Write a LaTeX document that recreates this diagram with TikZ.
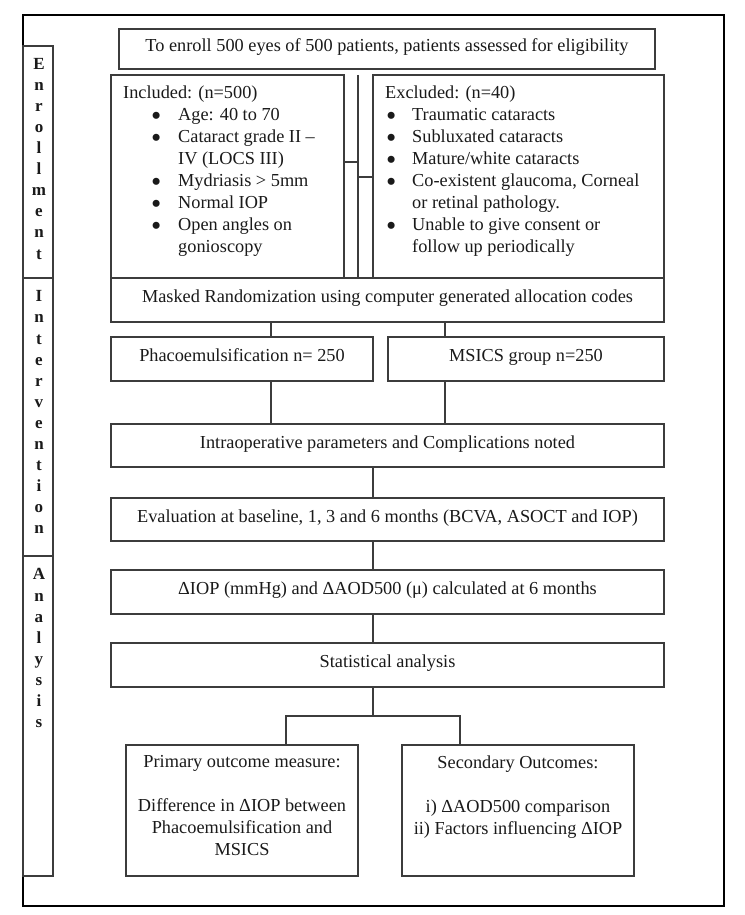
\documentclass[tikz,border=0pt]{standalone}
\usepackage{fontspec}
\usepackage{graphicx}
\setmainfont{Liberation Serif}
\newcommand{\mainfs}{\fontsize{18.3}{22}\selectfont}
\newcommand{\sidefs}{\fontsize{17}{21.1}\selectfont\bfseries}
\newcommand{\bul}{\smash{\raisebox{-5.3pt}{\scalebox{1.6}{•}}}}
\definecolor{linec}{HTML}{3C3C3C}
\definecolor{textc}{HTML}{1A1A1A}
\begin{document}
\begin{tikzpicture}[x=1pt,y=-1pt,
  lc/.style={draw=linec, line width=1.1pt},
  box/.style={lc, inner sep=0pt, font=\mainfs, text=textc},
  one/.style={box, text height=13pt, text depth=8pt},
  conn/.style={draw=linec, line width=1.1pt},
  txt/.style={inner sep=0pt, font=\mainfs, text=textc},
  side/.style={font=\sidefs, align=center, inner sep=0pt, anchor=north, text=textc}]
\useasboundingbox (0,0) rectangle (744,915);
\fill[white] (0,0) rectangle (744,915);

% outer frame and side column
\node[draw=black, line width=2pt, minimum width=701pt, minimum height=891pt, inner sep=0pt] (frame) at (373.5,460.5) {};
\node[lc, minimum width=30pt, minimum height=830pt, inner sep=0pt] (col) at (38,461) {};
\coordinate (s1) at (53,278);
\coordinate (s2) at (53,556);
\draw[conn] (col.west |- s1) -- (s1);
\draw[conn] (col.west |- s2) -- (s2);
\node[side] (enr) at (39,57.8) {E\\n\\r\\o\\l\\l\\m\\e\\n\\t};
\node[side] (intv) at (39,290.5) {I\\n\\t\\e\\r\\v\\e\\n\\t\\i\\o\\n};
\node[side] (anal) at (39,568.5) {A\\n\\a\\l\\y\\s\\i\\s};

% boxes
\node[one, minimum width=536pt, minimum height=40pt] (top) at (387,49) {To enroll 500 eyes of 500 patients, patients assessed for eligibility};
\node[box, minimum width=233pt, minimum height=203pt] (inc) at (227.5,176.5) {};
\node[box, minimum width=291pt, minimum height=203pt] (exc) at (518.5,176.5) {};
\node[txt, anchor=north west, align=left] (inct) at (123,85.5) {Included: (n=500)\\
\hspace*{28pt}\makebox[27pt][l]{\bul}Age: 40 to 70\\
\hspace*{28pt}\makebox[27pt][l]{\bul}Cataract grade II –\\
\hspace*{55pt}IV (LOCS III)\\
\hspace*{28pt}\makebox[27pt][l]{\bul}Mydriasis > 5mm\\
\hspace*{28pt}\makebox[27pt][l]{\bul}Normal IOP\\
\hspace*{28pt}\makebox[27pt][l]{\bul}Open angles on\\
\hspace*{55pt}gonioscopy};
\node[txt, anchor=north west, align=left] (exct) at (385,85.5) {Excluded: (n=40)\\
\hspace*{1pt}\makebox[26pt][l]{\bul}Traumatic cataracts\\
\hspace*{1pt}\makebox[26pt][l]{\bul}Subluxated cataracts\\
\hspace*{1pt}\makebox[26pt][l]{\bul}Mature/white cataracts\\
\hspace*{1pt}\makebox[26pt][l]{\bul}Co-existent glaucoma, Corneal\\
\hspace*{27pt}or retinal pathology.\\
\hspace*{1pt}\makebox[26pt][l]{\bul}Unable to give consent or\\
\hspace*{27pt}follow up periodically};

\node[one, minimum width=553pt, minimum height=44pt] (rand) at (387.5,300) {Masked Randomization using computer generated allocation codes};
\node[one, minimum width=262pt, minimum height=44pt] (phaco) at (242,359) {Phacoemulsification n= 250};
\node[one, minimum width=276pt, minimum height=44pt] (msics) at (526,359) {MSICS group n=250};
\node[one, minimum width=553pt, minimum height=43pt] (intra) at (387.5,445.5) {Intraoperative parameters and Complications noted};
\node[one, minimum width=553pt, minimum height=43pt] (eval) at (387.5,519.5) {Evaluation at baseline, 1, 3 and 6 months (BCVA, ASOCT and IOP)};
\node[one, minimum width=553pt, minimum height=44pt] (dlt) at (387.5,592) {ΔIOP (mmHg) and ΔAOD500 (μ) calculated at 6 months};
\node[one, minimum width=553pt, minimum height=44pt] (stat) at (387.5,665) {Statistical analysis};
\node[box, minimum width=232pt, minimum height=131pt] (prim) at (242,810.5) {};
\node[box, minimum width=232pt, minimum height=131pt] (sec) at (518,810.5) {};
\node[txt, anchor=north, align=center] (primt) at (242,755.5) {Primary outcome measure:\\ \strut\\ Difference in ΔIOP between\\ Phacoemulsification and\\ MSICS};
\node[txt, anchor=north, align=center] (sect) at (518,755.5) {Secondary Outcomes:\\ \strut\\ i) ΔAOD500 comparison\\ ii) Factors influencing ΔIOP};

% connectors
\coordinate (m1) at (358,75);
\coordinate (m2) at (358,278);
\draw[conn] (m1) -- (m2);
\coordinate (j1) at (358,162);
\coordinate (j2) at (358,177);
\draw[conn] (inc.east |- j1) -- (j1);
\draw[conn] (j2) -- (exc.west |- j2);
\coordinate (ra) at (271,330);
\coordinate (rb) at (445,330);
\coordinate (cc) at (373,500);
\draw[conn] (rand.south -| ra) -- (phaco.north -| ra);
\draw[conn] (rand.south -| rb) -- (msics.north -| rb);
\draw[conn] (phaco.south -| ra) -- (intra.north -| ra);
\draw[conn] (msics.south -| rb) -- (intra.north -| rb);
\draw[conn] (intra.south -| cc) -- (eval.north -| cc);
\draw[conn] (eval.south -| cc) -- (dlt.north -| cc);
\draw[conn] (dlt.south -| cc) -- (stat.north -| cc);
\coordinate (br) at (373,716);
\coordinate (bl) at (286,716);
\coordinate (bR) at (460,716);
\draw[conn] (stat.south -| br) -- (br);
\draw[conn] (prim.north -| bl) -- (bl) -- (bR) -- (sec.north -| bR);
\end{tikzpicture}
\end{document}
